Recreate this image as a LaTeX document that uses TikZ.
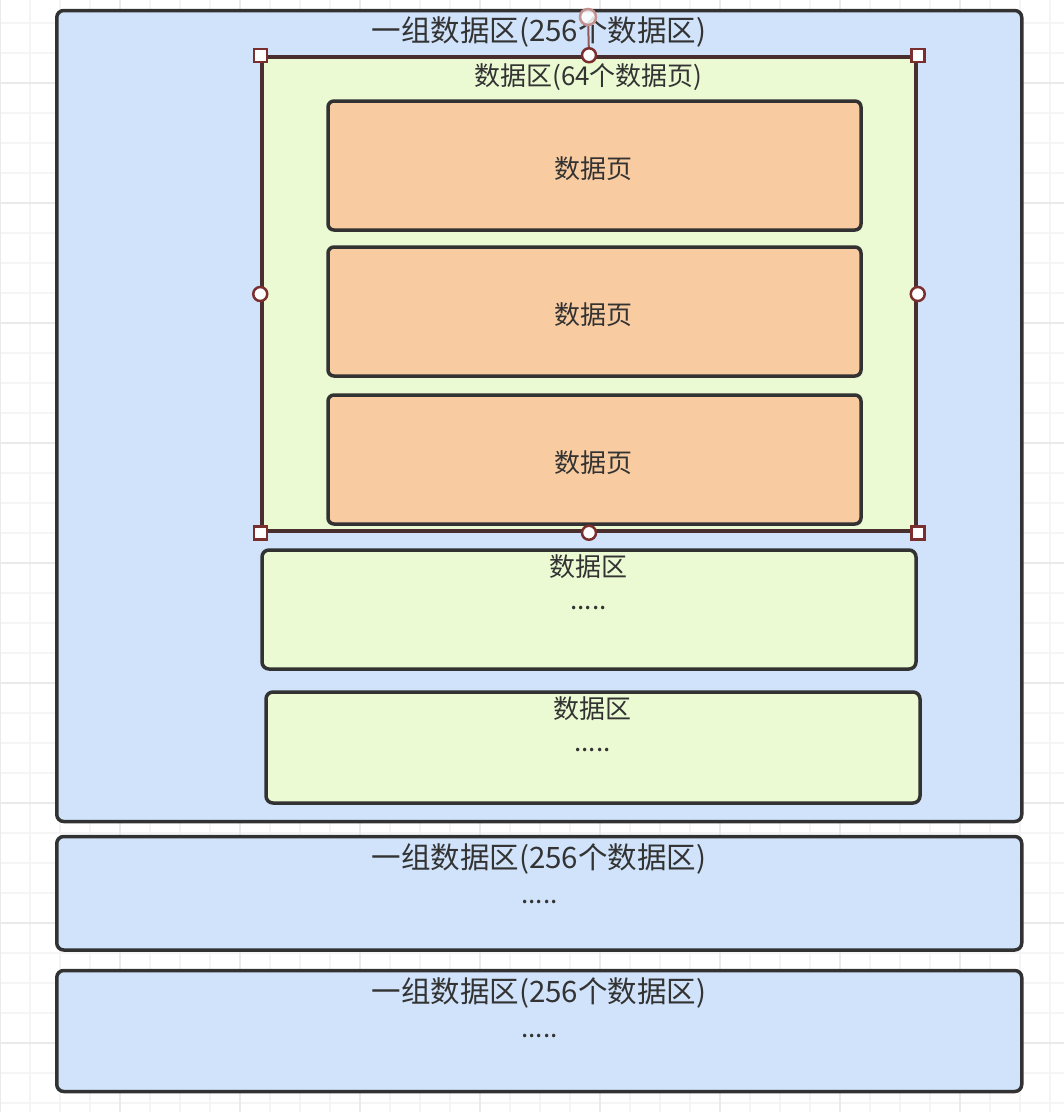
\documentclass[tikz,border=0pt]{standalone}
\usepackage{fontspec}
\setmainfont{Noto Sans CJK SC}
\definecolor{gridminor}{RGB}{245,245,245}
\definecolor{gridmajor}{RGB}{234,234,234}
\definecolor{groupfill}{RGB}{208,227,250}
\definecolor{extentfill}{RGB}{235,250,211}
\definecolor{pagefill}{RGB}{248,203,160}
\definecolor{edge}{RGB}{50,50,50}
\definecolor{seledge}{RGB}{72,46,46}
\definecolor{handle}{RGB}{123,46,46}
\definecolor{rothandle}{RGB}{196,144,144}
\definecolor{ink}{RGB}{51,51,51}
\tikzset{
  box/.style={draw=edge, line width=3.5pt, rounded corners=7pt, inner sep=0pt},
  groupbox/.style={box, fill=groupfill},
  extentbox/.style={box, fill=extentfill},
  pagebox/.style={box, fill=pagefill, rounded corners=6pt},
  selbox/.style={draw=seledge, line width=3.5pt, fill=extentfill, inner sep=0pt},
  label/.style={text=ink, inner sep=0pt, anchor=base},
  big/.style={label, font=\fontsize{29.5}{33}\selectfont},
  mid/.style={label, font=\fontsize{26}{30}\selectfont},
  sqhandle/.style={draw=handle, line width=2.5pt, fill=white, minimum size=13pt, inner sep=0pt},
  cirhandle/.style={circle, draw=handle, line width=2.5pt, fill=white, minimum size=14pt, inner sep=0pt},
}
\begin{document}
\begin{tikzpicture}[x=1pt,y=-1pt]
\useasboundingbox (0,0) rectangle (1064,1112);
\fill[white] (0,0) rectangle (1064,1112);
% background grid: minor every 30, major every 120
\foreach \gx in {0,30,...,1050} \draw[gridminor, line width=1.6pt] (\gx,0) -- (\gx,1112);
\foreach \gy in {23,53,...,1103} \draw[gridminor, line width=1.6pt] (0,\gy) -- (1064,\gy);
\foreach \gx in {0,120,...,1050} \draw[gridmajor, line width=1.6pt] (\gx,0) -- (\gx,1112);
\foreach \gy in {83,203,...,1103} \draw[gridmajor, line width=1.6pt] (0,\gy) -- (1064,\gy);

% groups of extents
\node[groupbox, minimum width=965pt, minimum height=811pt] (g1) at (539.25,416) {};
\node[groupbox, minimum width=965pt, minimum height=113.5pt] (g2) at (539.25,893.25) {};
\node[groupbox, minimum width=965pt, minimum height=121pt] (g3) at (539.25,1031) {};

% extents inside the first group
\node[selbox, minimum width=654pt, minimum height=474pt] (e1) at (589,294) {};
\node[extentbox, minimum width=654pt, minimum height=119pt] (e2) at (589,609.5) {};
\node[extentbox, minimum width=654pt, minimum height=111pt] (e3) at (593,747.5) {};

% pages inside the first extent
\node[pagebox, minimum width=533pt, minimum height=129pt] (p1) at (594.5,165.5) {};
\node[pagebox, minimum width=533pt, minimum height=129pt] (p2) at (594.5,311.5) {};
\node[pagebox, minimum width=533pt, minimum height=129pt] (p3) at (594.5,459.5) {};

% labels
\node[big] (g1t) at (539,41) {一组数据区(256个数据区)};
\node[mid] (e1t) at (588.5,85) {数据区(64个数据页)};
\node[mid] (p1t) at (593,178) {数据页};
\node[mid] (p2t) at (593,324) {数据页};
\node[mid] (p3t) at (593,472) {数据页};
\node[mid] (e2t) at (588.5,576) {数据区};
\node[mid] (e2d) at (588.5,609) {.....};
\node[mid] (e3t) at (592.5,718) {数据区};
\node[mid] (e3d) at (592.5,751) {.....};
\node[big] (g2t) at (539,868) {一组数据区(256个数据区)};
\node[mid] (g2d) at (539.5,903) {.....};
\node[big] (g3t) at (539,1002) {一组数据区(256个数据区)};
\node[mid] (g3d) at (539.5,1037) {.....};

% selection handles on the first extent
\node[sqhandle] (hnw) at (e1.north west) {};
\node[sqhandle] (hne) at (e1.north east) {};
\node[sqhandle] (hsw) at (e1.south west) {};
\node[sqhandle] (hse) at (e1.south east) {};
\node[cirhandle] (hn) at (e1.north) {};
\node[cirhandle] (hs) at (e1.south) {};
\node[cirhandle] (hw) at (e1.west) {};
\node[cirhandle] (he) at (e1.east) {};
\node[circle, draw=rothandle, line width=2.5pt, fill=white, fill opacity=0.85, minimum size=16pt, inner sep=0pt] (hrot) at (588,17) {};
\draw[handle!80, line width=2pt] (hrot) -- (hn);
\end{tikzpicture}
\end{document}
